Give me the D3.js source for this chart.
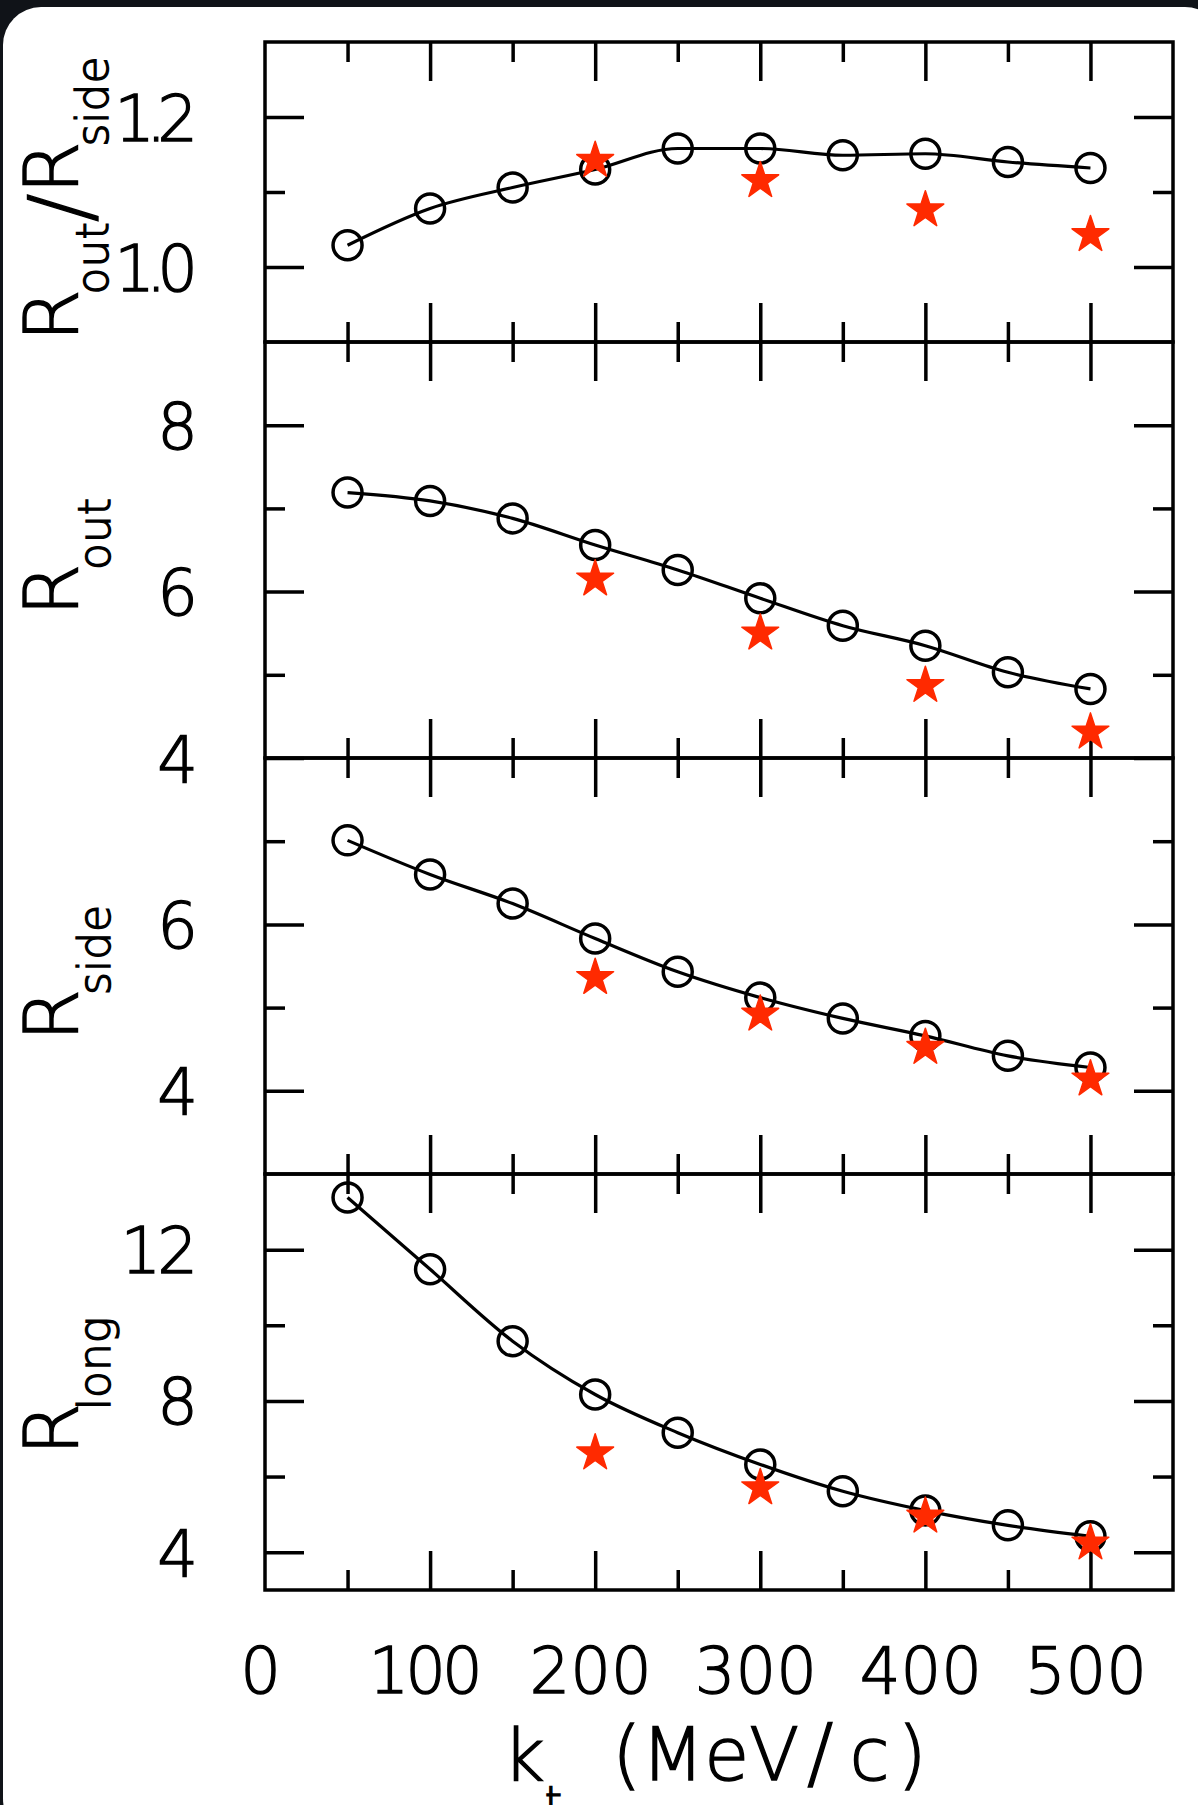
<!DOCTYPE html>
<html><head><meta charset="utf-8">
<script src="https://cdn.jsdelivr.net/npm/d3@7"></script>
<style>body{margin:0;background:#101318;} svg{display:block}</style>
</head><body><svg id="c" width="1198" height="1805"></svg>
<script>
// ---- data ----
const ktCircles = [50, 100, 150, 200, 250, 300, 350, 400, 450, 500];
const ktStars = [200, 300, 400, 500];
const ratioCircles = [1.029, 1.078, 1.106, 1.130, 1.158, 1.158, 1.149, 1.151, 1.140, 1.132];
const ratioStars = [1.142, 1.115, 1.076, 1.043];
const routCircles = [7.19, 7.09, 6.88, 6.56, 6.26, 5.92, 5.59, 5.35, 5.03, 4.83];
const routStars = [6.15, 5.50, 4.87, 4.31];
const rsideCircles = [7.01, 6.60, 6.25, 5.83, 5.43, 5.12, 4.87, 4.66, 4.42, 4.28];
const rsideStars = [5.36, 4.92, 4.52, 4.14];
const rlongCircles = [13.38, 11.48, 9.58, 8.17, 7.16, 6.32, 5.61, 5.10, 4.71, 4.42];
const rlongStars = [6.62, 5.70, 4.95, 4.24];
const xMajorTicks = [100, 200, 300, 400, 500];
const xMinorTicks = [50, 150, 250, 350, 450];
const xTickLabels = [0, 100, 200, 300, 400, 500];

// ---- layout ----
const W = 1198, H = 1805;
const FONT = "'DejaVu Sans', sans-serif";
const FW = 300;
const svg = d3.select("#c");
svg.append("rect").attr("width", W).attr("height", H).attr("fill", "#101318");
svg.append("rect").attr("x", 3).attr("y", 7).attr("width", 1220).attr("height", 1830)
  .attr("rx", 38).attr("fill", "#ffffff");

const left = 265, right = 1173;
const x = d3.scaleLinear().domain([0, 550]).range([left, right]);

const panels = [
  {top: 42, bottom: 342, domain: [0.9, 1.3], major: [1.0, 1.2], minor: [1.1],
   circ: ratioCircles, star: ratioStars, fmt: d3.format(".1f"), shift: 7,
   label: [["R",75,0,0],["out",44,30,-5],["/",85,-18,0],["R",75,-12,0],["side",44,30,-5]]},
  {top: 342, bottom: 758, domain: [4, 9], major: [4, 6, 8], minor: [5, 7],
   circ: routCircles, star: routStars, fmt: d3.format("d"), shift: 7,
   label: [["R",75,0,0],["out",44,32,-6]]},
  {top: 758, bottom: 1174, domain: [3, 8], major: [4, 6], minor: [5, 7],
   circ: rsideCircles, star: rsideStars, fmt: d3.format("d"), shift: 7,
   label: [["R",75,0,0],["side",44,32,-6]]},
  {top: 1174, bottom: 1590, domain: [3, 14], major: [4, 8, 12], minor: [6, 10],
   circ: rlongCircles, star: rlongStars, fmt: d3.format("d"), shift: 4,
   label: [["R",75,0,0],["long",44,32,-7]]}
];

const MAJ = 39, MIN = 20, SW = 3.5;

function styleAxis(g) {
  g.select(".domain").remove();
  g.selectAll(".tick line").attr("stroke", "#000").attr("stroke-width", SW);
}
// the original plotting font has a narrow "1" and "."
function spacing(s) { return s.includes(".") ? -9 : (s.includes("1") ? -4 : 0); }

const starSym = d3.symbol().type(d3.symbolStar).size(420);

panels.forEach((p, i) => {
  const y = d3.scaleLinear().domain(p.domain).range([p.bottom, p.top]);
  const g = svg.append("g");

  [[p.major, MAJ], [p.minor, MIN]].forEach(([vals, len]) => {
    g.append("g").attr("transform", `translate(${left},0)`)
      .call(d3.axisLeft(y).tickValues(vals).tickSize(-len).tickFormat(""))
      .call(styleAxis);
    g.append("g").attr("transform", `translate(${right},0)`)
      .call(d3.axisRight(y).tickValues(vals).tickSize(-len).tickFormat(""))
      .call(styleAxis);
  });
  [[xMajorTicks, MAJ], [xMinorTicks, MIN]].forEach(([vals, len]) => {
    g.append("g").attr("transform", `translate(0,${p.top})`)
      .call(d3.axisTop(x).tickValues(vals).tickSize(-len).tickFormat(""))
      .call(styleAxis);
    g.append("g").attr("transform", `translate(0,${p.bottom})`)
      .call(d3.axisBottom(x).tickValues(vals).tickSize(-len).tickFormat(""))
      .call(styleAxis);
  });

  const lab = g.append("g").attr("transform", `translate(${left},0)`)
    .call(d3.axisLeft(y).tickValues(p.major).tickSize(0).tickPadding(67).tickFormat(p.fmt));
  lab.select(".domain").remove();
  lab.selectAll("text").attr("font-family", FONT).attr("font-weight", FW)
    .attr("font-size", 64).attr("fill", "#000").attr("stroke", "#000").attr("stroke-width", 1.3)
    .attr("dy", "0.36em")
    .attr("letter-spacing", d => spacing(p.fmt(d)))
    .attr("dx", d => spacing(p.fmt(d)));

  g.append("rect").attr("x", left).attr("y", p.top)
    .attr("width", right - left).attr("height", p.bottom - p.top)
    .attr("fill", "none").attr("stroke", "#000").attr("stroke-width", SW);

  const pts = ktCircles.map((k, j) => [k, p.circ[j]]);
  g.append("path").datum(pts)
    .attr("d", d3.line().x(d => x(d[0])).y(d => y(d[1])).curve(d3.curveMonotoneX))
    .attr("fill", "none").attr("stroke", "#000").attr("stroke-width", 3.2);

  g.selectAll("circle.o").data(pts).join("circle").attr("class", "o")
    .attr("cx", d => x(d[0])).attr("cy", d => y(d[1])).attr("r", 14.5)
    .attr("fill", "none").attr("stroke", "#000").attr("stroke-width", SW);

  const spts = ktStars.map((k, j) => [k, p.star[j]]);
  g.selectAll("path.s").data(spts).join("path").attr("class", "s")
    .attr("transform", d => `translate(${x(d[0])},${y(d[1])})`)
    .attr("d", starSym)
    .attr("fill", "#ff2a00").attr("stroke", "#ff2a00").attr("stroke-width", 1.5)
    .attr("stroke-linejoin", "round");

  const cy = (p.top + p.bottom) / 2 + p.shift;
  const t = svg.append("text").attr("transform", `translate(78,${cy}) rotate(-90)`)
    .attr("text-anchor", "middle").attr("font-family", FONT).attr("font-weight", FW)
    .attr("fill", "#000").attr("stroke", "#000").attr("stroke-width", 1.4);
  p.label.forEach(([s, fs, dy, dx]) => {
    t.append("tspan").attr("font-size", fs).attr("dy", dy).attr("dx", dx).text(s);
  });
});

const bottomY = panels[panels.length - 1].bottom;
const xfmt = d3.format("d");
const xl = svg.append("g").attr("transform", `translate(0,${bottomY})`)
  .call(d3.axisBottom(x).tickValues(xTickLabels).tickSize(0).tickPadding(58).tickFormat(xfmt));
xl.select(".domain").remove();
xl.selectAll("text").attr("font-family", FONT).attr("font-weight", FW)
  .attr("font-size", 64).attr("fill", "#000").attr("stroke", "#000").attr("stroke-width", 1.3)
  .attr("letter-spacing", d => spacing(xfmt(d)))
  .attr("dx", d => -5 + spacing(xfmt(d)) / 2);

const xt = svg.append("text").attr("x", 503).attr("y", 1780)
  .attr("font-family", FONT).attr("font-weight", FW).attr("fill", "#000")
  .attr("stroke", "#000").attr("stroke-width", 1.4);
xt.append("tspan").attr("font-size", 72).text("k");
xt.append("tspan").attr("font-size", 44).attr("dy", 38).text("t");
xt.append("tspan").attr("font-size", 75).attr("dy", -38).attr("dx", 50).text("(");
xt.append("tspan").attr("font-size", 73).text("Me");
xt.append("tspan").attr("font-size", 73).attr("letter-spacing", 8).text("V");
xt.append("tspan").attr("font-size", 78).attr("letter-spacing", 16).text("/");
xt.append("tspan").attr("font-size", 73).attr("letter-spacing", 8).text("c");
xt.append("tspan").attr("font-size", 75).text(")");
</script></body></html>
